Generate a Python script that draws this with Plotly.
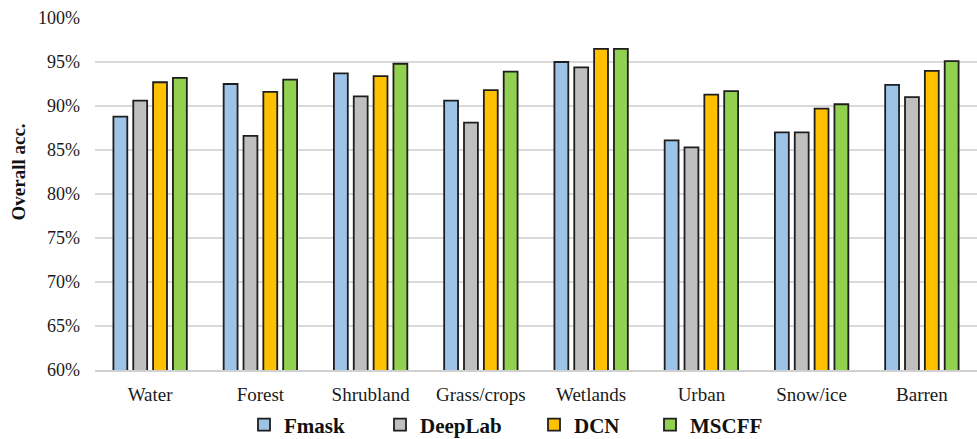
import plotly.graph_objects as go

categories = ["Water", "Forest", "Shrubland", "Grass/crops", "Wetlands", "Urban", "Snow/ice", "Barren"]

fmask = [88.8, 92.5, 93.7, 90.6, 95.0, 86.1, 87.0, 92.4]
deeplab = [90.6, 86.6, 91.1, 88.1, 94.4, 85.3, 87.0, 91.0]
dcn = [92.7, 91.6, 93.4, 91.8, 96.5, 91.3, 89.7, 94.0]
mscff = [93.2, 93.0, 94.8, 93.9, 96.5, 91.7, 90.2, 95.1]

series_names = ["Fmask", "DeepLab", "DCN", "MSCFF"]
series_values = [fmask, deeplab, dcn, mscff]
series_colors = ["#9DC3E6", "#BFBFBF", "#FFC000", "#92D050"]

# left edge of each legend entry, in pixels from the left of the page
legend_left_px = [244, 380, 534, 650]

y_ticks = [60, 65, 70, 75, 80, 85, 90, 95, 100]
y_tick_labels = [f"{v}%" for v in y_ticks]

font_family = "Liberation Serif"
W, H = 977, 439

fig = go.Figure()
legend_layouts = {}
for i, (name, vals, color) in enumerate(zip(series_names, series_values, series_colors)):
    legend_id = "legend" if i == 0 else f"legend{i + 1}"
    fig.add_trace(go.Bar(
        name=name,
        x=categories,
        y=vals,
        legend=legend_id,
        marker=dict(color=color, line=dict(color="#1e1e1e", width=1.8)),
    ))
    legend_layouts[legend_id] = dict(
        orientation="h",
        x=legend_left_px[i] / W,
        xanchor="left",
        xref="container",
        y=14 / H,
        yanchor="middle",
        yref="container",
        bgcolor="rgba(0,0,0,0)",
        font=dict(family=font_family, size=21, color="#111111", weight="bold"),
        itemwidth=30,
    )

fig.update_layout(
    width=W,
    height=H,
    margin=dict(l=95, r=0, t=18, b=69, autoexpand=False),
    paper_bgcolor="white",
    plot_bgcolor="white",
    barmode="group",
    bargap=0.28,
    bargroupgap=0.3,
    font=dict(family=font_family, color="#1a1a1a", size=18),
    showlegend=True,
    xaxis=dict(
        showgrid=False,
        showline=True,
        linecolor="#d0d0d0",
        linewidth=1.5,
        ticks="",
        ticklabelstandoff=6,
        tickfont=dict(family=font_family, size=19, color="#1a1a1a"),
    ),
    yaxis=dict(
        range=[60, 100],
        tickvals=y_ticks,
        ticktext=y_tick_labels,
        showgrid=True,
        gridcolor="#d9d9d9",
        gridwidth=1.5,
        zeroline=False,
        showline=False,
        ticks="",
        ticklabelstandoff=14,
        tickfont=dict(family=font_family, size=18, color="#1a1a1a"),
    ),
    annotations=[dict(
        text="<b>Overall acc.</b>",
        textangle=-90,
        xref="paper",
        yref="paper",
        x=(17.5 - 95) / (W - 95),
        y=(370 - 172) / (H - 18 - 69),
        xanchor="center",
        yanchor="middle",
        showarrow=False,
        font=dict(family=font_family, size=19, color="#111111"),
    )],
    **legend_layouts,
)

fig.write_html("out.html")
